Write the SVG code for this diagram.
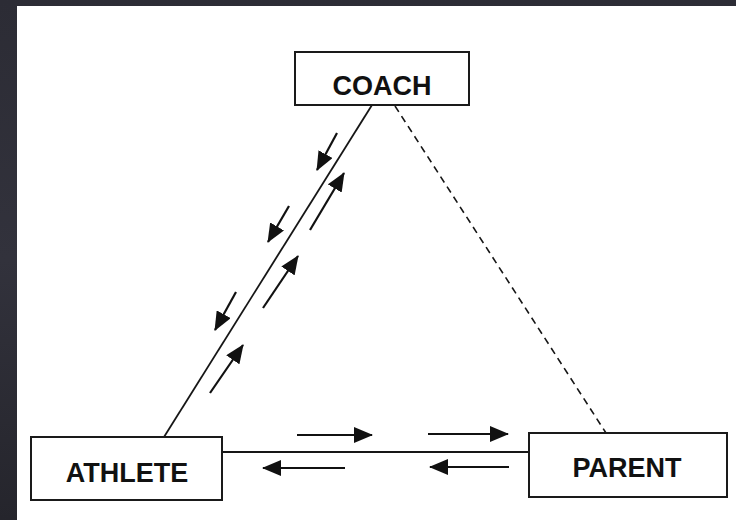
<svg xmlns="http://www.w3.org/2000/svg" width="736" height="520" viewBox="0 0 736 520">
  <defs>
    <linearGradient id="bg" x1="0" y1="0" x2="0" y2="1">
      <stop offset="0" stop-color="#2c2c35"/>
      <stop offset="0.5" stop-color="#32323c"/>
      <stop offset="1" stop-color="#25252c"/>
    </linearGradient>
    <marker id="ah" viewBox="0 0 19 16" refX="18" refY="8" markerWidth="19" markerHeight="16" markerUnits="userSpaceOnUse" orient="auto">
      <path d="M0,0 L19,8 L0,16 Z" fill="#111"/>
    </marker>
    <style>
      .box { fill: #fff; stroke: #1a1a1a; stroke-width: 2; }
      .lbl { font-family: "Liberation Sans", Arial, sans-serif; font-weight: bold; font-size: 27px; fill: #111; text-anchor: middle; }
      .ln { stroke: #161616; stroke-width: 1.8; fill: none; }
      .dash { stroke: #161616; stroke-width: 1.6; fill: none; stroke-dasharray: 7 5; }
      .arr { stroke: #111; stroke-width: 2.2; fill: none; marker-end: url(#ah); }
    </style>
  </defs>
  <rect x="0" y="0" width="736" height="520" fill="url(#bg)"/>
  <rect x="17" y="6" width="719" height="514" fill="#ffffff"/>

  <g id="connectors">
    <line class="ln" x1="372" y1="105" x2="164" y2="437"/>
    <line class="dash" x1="395" y1="106" x2="606" y2="433"/>
    <line class="ln" x1="222" y1="452" x2="529" y2="452"/>
    <!-- horizontal arrows -->
    <line class="arr" x1="297" y1="435" x2="372" y2="435"/>
    <line class="arr" x1="428" y1="434" x2="508" y2="434"/>
    <line class="arr" x1="345" y1="468" x2="263" y2="468"/>
    <line class="arr" x1="509" y1="467" x2="430" y2="467"/>
    <!-- diagonal arrows: downwards -->
    <line class="arr" x1="337" y1="133" x2="317" y2="170"/>
    <line class="arr" x1="289" y1="206" x2="268" y2="242"/>
    <line class="arr" x1="236" y1="292" x2="215" y2="330"/>
    <!-- diagonal arrows: upwards -->
    <line class="arr" x1="310" y1="230" x2="344" y2="173"/>
    <line class="arr" x1="263" y1="308" x2="298" y2="256"/>
    <line class="arr" x1="210" y1="393" x2="243" y2="345"/>
  </g>

  <g id="coach">
    <rect class="box" x="295" y="52" width="174" height="53"/>
    <text class="lbl" x="382" y="95">COACH</text>
  </g>
  <g id="athlete">
    <rect class="box" x="31" y="437" width="191" height="63"/>
    <text class="lbl" x="127" y="482">ATHLETE</text>
  </g>
  <g id="parent">
    <rect class="box" x="529" y="433" width="198" height="64"/>
    <text class="lbl" x="627" y="477">PARENT</text>
  </g>
</svg>
